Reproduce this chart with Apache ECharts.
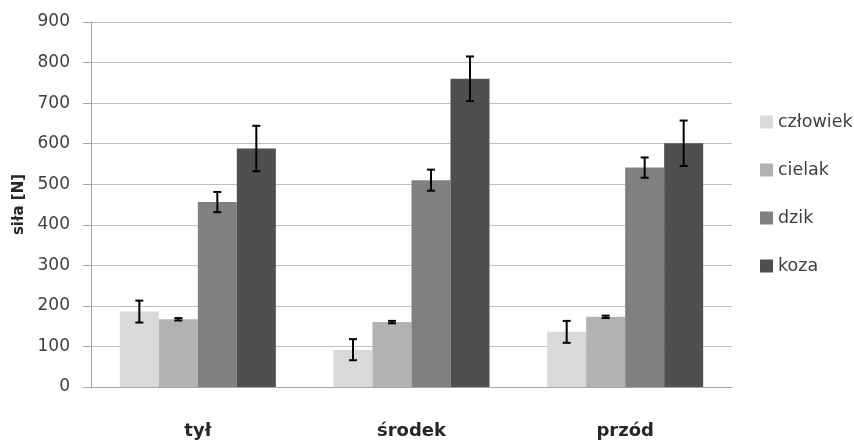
<!DOCTYPE html>
<html><head><meta charset="utf-8">
<script src="https://cdn.jsdelivr.net/npm/echarts@6/dist/echarts.min.js"></script>
<style>html,body{margin:0;padding:0;background:#fff}#c{width:854px;height:441px}</style>
</head><body><div id="c"></div>
<script>
const categories = ['tył', 'środek', 'przód'];
const seriesNames = ['człowiek', 'cielak', 'dzik', 'koza'];
const czlowiek = [186, 92, 136];
const cielak = [167, 160, 173];
const dzik = [456, 510, 541];
const koza = [588, 760, 601];
const errCzlowiek = [27, 26, 27];
const errCielak = [3, 3, 3];
const errDzik = [25, 26, 25];
const errKoza = [56, 55, 56];
const yTicks = [0, 100, 200, 300, 400, 500, 600, 700, 800, 900];
const colors = ['#d9d9d9', '#b2b2b2', '#808080', '#4f4f4f'];

const values = [czlowiek, cielak, dzik, koza];
const errs = [errCzlowiek, errCielak, errDzik, errKoza];
const catGap = 0.27;

const errData = [];
values.forEach((vals, s) => vals.forEach((v, c) => {
  errData.push([c, v - errs[s][c], v + errs[s][c], s]);
}));

const font = 'DejaVu Sans';
const chart = echarts.init(document.getElementById('c'));
chart.setOption({
  animation: false,
  textStyle: { fontFamily: font },
  grid: { left: 91, right: 122, top: 22, bottom: 54, containLabel: false },
  legend: {
    orient: 'vertical', left: 760, top: 113, padding: 0,
    itemWidth: 13, itemHeight: 13, itemGap: 30,
    icon: 'rect',
    textStyle: { fontFamily: font, fontSize: 17.5, lineHeight: 16, color: '#404040' },
    data: seriesNames
  },
  xAxis: {
    type: 'category', data: categories,
    axisLine: { lineStyle: { color: '#a6a6a6', width: 1 } },
    axisTick: { show: false },
    axisLabel: { margin: 35, fontFamily: font, fontSize: 18, fontWeight: 'bold', color: '#262626' }
  },
  yAxis: {
    type: 'value', min: 0, max: 900, interval: 100,
    name: 'siła [N]', nameLocation: 'middle', nameGap: 58, nameRotate: 90,
    nameTextStyle: { fontFamily: font, fontSize: 15, fontWeight: 'bold', color: '#262626' },
    axisLine: { show: true, lineStyle: { color: '#a6a6a6', width: 1 } },
    axisTick: { show: true, length: 8, lineStyle: { color: '#a6a6a6' } },
    splitLine: { lineStyle: { color: '#bfbfbf', width: 1 } },
    axisLabel: { margin: 21, fontFamily: font, fontSize: 17, color: '#404040',
      formatter: v => yTicks.includes(v) ? String(v) : '' }
  },
  series: seriesNames.map((n, i) => ({
    name: n, type: 'bar', data: values[i],
    itemStyle: { color: colors[i] },
    barGap: '0%', barCategoryGap: (catGap * 100) + '%'
  })).concat([{
    type: 'custom', name: 'err', data: errData,
    encode: { x: 0, y: [1, 2] }, z: 10,
    renderItem: (params, api) => {
      const c = api.value(0), lo = api.value(1), hi = api.value(2), s = api.value(3);
      const bw = api.size([1, 0])[0];
      const barW = bw * (1 - catGap) / 4;
      const center = api.coord([c, 0])[0] + (s - 1.5) * barW;
      const yLo = api.coord([c, lo])[1], yHi = api.coord([c, hi])[1];
      const cap = 4;
      const st = { stroke: '#000', lineWidth: 2 };
      return { type: 'group', children: [
        { type: 'line', shape: { x1: center, y1: yLo, x2: center, y2: yHi }, style: st },
        { type: 'line', shape: { x1: center - cap, y1: yLo, x2: center + cap, y2: yLo }, style: st },
        { type: 'line', shape: { x1: center - cap, y1: yHi, x2: center + cap, y2: yHi }, style: st }
      ]};
    }
  }])
});
</script></body></html>
